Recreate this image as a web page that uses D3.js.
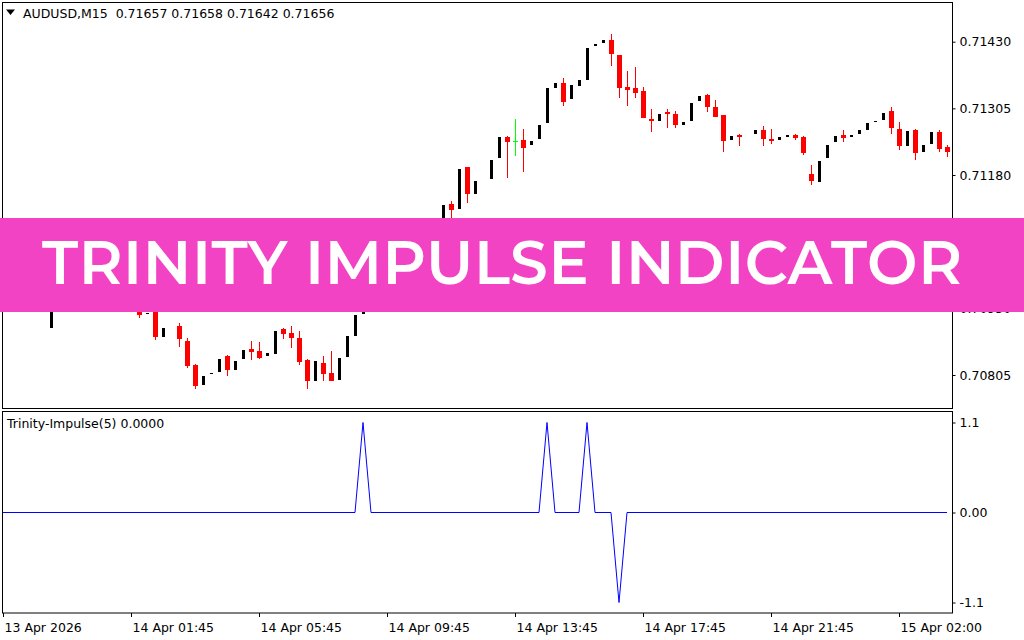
<!DOCTYPE html>
<html><head><meta charset="utf-8">
<script src="https://cdn.jsdelivr.net/npm/d3@7"></script>
<style>
body{margin:0;background:#fff;}
svg{display:block;}
</style>
</head><body>
<svg id="chart" width="1024" height="640"></svg>
<script>
// ---------- DATA ----------
const symbolLabel = "AUDUSD,M15  0.71657 0.71658 0.71642 0.71656";
const indicatorLabel = "Trinity-Impulse(5) 0.0000";
const bannerTitle = "TRINITY IMPULSE INDICATOR";

const openP = [0.71039,0.71024,0.71051,0.71009,0.70976,0.70949,0.70894,0.70974,0.71006,0.70991,
0.71028,0.71051,0.71024,0.71002,0.71032,0.70987,0.70957,0.70968,0.70919,0.70934,
0.70877,null,0.70897,0.70868,0.70824,0.70787,0.70808,0.70811,0.70841,0.70815,
0.70835,0.70854,0.70850,0.70841,0.70845,0.70891,0.70884,0.70874,0.70833,0.70794,
0.70828,0.70809,0.70796,0.70838,0.70879,0.70920,0.70953,0.70976,0.70964,0.71002,
0.71024,0.71013,0.71043,0.71062,0.71051,0.71084,0.71126,0.71117,0.71195,0.71145,
null,0.71173,0.71211,0.71251,0.71243,0.71246,0.71237,0.71248,0.71278,0.71344,
0.71353,0.71323,0.71347,0.71358,0.71421,0.71428,0.71433,0.71405,0.71345,0.71343,
0.71338,0.71285,0.71282,0.71298,0.71294,0.71273,0.71282,0.71319,0.71330,0.71308,
0.71293,0.71246,0.71255,null,0.71256,0.71264,0.71248,0.71246,0.71252,0.71255,
0.71251,0.71182,0.71166,0.71211,0.71241,0.71255,0.71252,0.71256,0.71265,0.71280,
0.71284,0.71300,0.71266,0.71235,0.71264,0.71224,0.71239,0.71261,0.71233];

const highP = [0.71049,0.71058,0.71062,0.71017,0.70983,0.70961,0.70979,0.71017,0.71024,0.71039,
0.71062,0.71066,0.71036,0.71039,0.71043,0.70998,0.70983,0.70976,0.70921,0.70942,
0.70893,null,0.70903,0.70874,0.70826,0.70803,0.70809,0.70835,0.70843,0.70831,
0.70852,0.70869,0.70867,0.70846,0.70888,0.70893,0.70897,0.70888,0.70835,0.70831,
0.70841,0.70850,0.70837,0.70878,0.70918,0.70957,0.70979,0.70983,0.71006,0.71030,
0.71032,0.71047,0.71068,0.71073,0.71088,0.71124,0.71131,0.71191,0.71195,0.71169,
null,0.71208,0.71251,0.71254,0.71285,0.71266,0.71244,0.71274,0.71343,0.71353,
0.71362,0.71349,0.71358,0.71418,0.71426,0.71433,0.71444,0.71405,0.71375,0.71383,
0.71345,0.71304,0.71294,0.71304,0.71300,0.71279,0.71315,0.71328,0.71332,0.71321,
0.71293,0.71253,0.71257,null,0.71264,0.71272,0.71266,0.71251,0.71255,0.71257,
0.71253,0.71198,0.71206,0.71236,0.71253,0.71264,0.71255,0.71264,0.71278,0.71282,
0.71296,0.71308,0.71279,0.71263,0.71266,0.71236,0.71261,0.71264,0.71237];

const lowP = [0.71017,0.71017,0.71002,0.70964,0.70936,0.70923,0.70893,0.70964,0.70979,0.70983,
0.71017,0.71017,0.70993,0.70991,0.70979,0.70946,0.70938,0.70912,0.70919,0.70871,
0.70877,null,0.70858,0.70819,0.70779,0.70787,0.70808,0.70811,0.70804,0.70815,
0.70835,0.70833,0.70835,0.70841,0.70845,0.70873,0.70856,0.70824,0.70779,0.70794,
0.70794,0.70793,0.70796,0.70838,0.70879,0.70920,0.70949,0.70957,0.70961,0.70998,
0.71006,0.71009,0.71039,0.71043,0.71047,0.71081,0.71092,0.71117,0.71128,0.71145,
null,0.71173,0.71211,0.71175,0.71216,0.71186,0.71237,0.71248,0.71278,0.71344,
0.71310,0.71323,0.71347,0.71358,0.71421,0.71428,0.71385,0.71325,0.71310,0.71325,
0.71286,0.71261,0.71282,0.71269,0.71269,0.71273,0.71282,0.71319,0.71299,0.71288,
0.71224,0.71246,0.71235,null,0.71256,0.71235,0.71239,0.71246,0.71252,0.71246,
0.71218,0.71162,0.71166,0.71211,0.71241,0.71241,0.71252,0.71256,0.71265,0.71280,
0.71284,0.71256,0.71226,0.71235,0.71209,0.71224,0.71239,0.71224,0.71214];

const closeP = [0.71024,0.71051,0.71009,0.70976,0.70949,0.70934,0.70974,0.71006,0.70991,0.71028,
0.71051,0.71024,0.71002,0.71032,0.70987,0.70957,0.70972,0.70918,0.70921,0.70877,
0.70893,null,0.70873,0.70821,0.70785,0.70803,0.70809,0.70835,0.70815,0.70831,
0.70852,0.70849,0.70837,0.70846,0.70888,0.70881,0.70875,0.70830,0.70793,0.70831,
0.70806,0.70794,0.70837,0.70878,0.70918,0.70953,0.70976,0.70964,0.71002,0.71024,
0.71013,0.71043,0.71062,0.71051,0.71084,0.71124,0.71115,0.71191,0.71145,0.71169,
null,0.71208,0.71251,0.71241,0.71243,0.71231,0.71244,0.71274,0.71343,0.71353,
0.71316,0.71349,0.71358,0.71418,0.71426,0.71433,0.71407,0.71344,0.71340,0.71334,
0.71286,0.71282,0.71294,0.71295,0.71273,0.71279,0.71315,0.71328,0.71308,0.71289,
0.71244,0.71253,0.71252,null,0.71264,0.71248,0.71243,0.71251,0.71255,0.71250,
0.71222,0.71168,0.71206,0.71236,0.71253,0.71250,0.71255,0.71264,0.71278,0.71282,
0.71296,0.71269,0.71235,0.71263,0.71222,0.71236,0.71261,0.71229,0.71224];

const impulse = [
0,0,0,0,0,0,0,0,0,0, 0,0,0,0,0,0,0,0,0,0, 0,0,0,0,0,0,0,0,0,0, 0,0,0,0,0,0,0,0,0,0,
0,0,0,0,0,1.1,0,0,0,0, 0,0,0,0,0,0,0,0,0,0, 0,0,0,0,0,0,0,0,1.1,0,
0,0,0,1.1,0,0,0,-1.1,0,0, 0,0,0,0,0,0,0,0,0,0, 0,0,0,0,0,0,0,0,0,0,
0,0,0,0,0,0,0,0,0,0, 0,0,0,0,0,0,0,0,0];

const priceTicks = [0.71430,0.71305,0.71180,0.71055,0.70930,0.70805];
const impulseTicks = [1.1,0,-1.1];
const impulseTickLabels = ["1.1","0.00","-1.1"];
const timeTickIndex = [0,16,32,48,64,80,96,112];
const timeTickLabels = ["13 Apr 2026","14 Apr 01:45","14 Apr 05:45","14 Apr 09:45","14 Apr 13:45","14 Apr 17:45","14 Apr 21:45","15 Apr 02:00"];

// ---------- DRAW ----------
const FONT = "'DejaVu Sans', Verdana, sans-serif";
const FS = 12.5;
const svg = d3.select("#chart");
const n = openP.length;
const bars = d3.range(n).map(i => ({i, o:openP[i], h:highP[i], l:lowP[i], c:closeP[i]})).filter(d => d.o !== null);

const x = d3.scaleLinear().domain([0, n-1]).range([3, 947]);
const yP = d3.scaleLinear().domain([0.70805, 0.71430]).range([375, 41.7]);
const yI = d3.scaleLinear().domain([-1.1, 1.1]).range([602.5, 422.5]);

svg.append("rect").attr("width",1024).attr("height",640).attr("fill","#fff");

svg.append("defs").append("clipPath").attr("id","mainClip")
  .append("rect").attr("x",3).attr("y",3).attr("width",949).attr("height",405);

// panel frames
svg.append("rect").attr("x",2.5).attr("y",2.5).attr("width",950).attr("height",406)
  .attr("fill","none").attr("stroke","#000");
svg.append("rect").attr("x",2.5).attr("y",411.5).attr("width",950).attr("height",201.5)
  .attr("fill","none").attr("stroke","#000");

// candles
const cg = svg.append("g").attr("clip-path","url(#mainClip)").attr("shape-rendering","crispEdges");
const col = d => d.c > d.o ? "#000" : (d.c < d.o ? "#ff0000" : "#00ff00");
cg.selectAll(".wick").data(bars).join("rect")
  .attr("x", d => Math.round(x(d.i)))
  .attr("width", 1)
  .attr("y", d => Math.round(yP(d.h)))
  .attr("height", d => Math.max(1, Math.round(yP(d.l)) - Math.round(yP(d.h))))
  .attr("fill", col);
cg.selectAll(".body").data(bars).join("rect")
  .attr("x", d => Math.round(x(d.i)) - (d.c > d.o ? 1 : 2))
  .attr("width", d => d.c > d.o ? 3 : 5)
  .attr("y", d => Math.round(yP(Math.max(d.o,d.c))))
  .attr("height", d => Math.max(1, Math.round(yP(Math.min(d.o,d.c))) - Math.round(yP(Math.max(d.o,d.c)))))
  .attr("fill", col);

// price axis
const pa = svg.append("g").attr("transform","translate(952.5,0)")
  .call(d3.axisRight(yP).tickValues(priceTicks).tickFormat(d3.format(".5f")).tickSize(3).tickPadding(4));
pa.select(".domain").remove();
pa.selectAll("text").attr("font-family",FONT).attr("font-size",FS).attr("fill","#000");

// impulse axis
const ia = svg.append("g").attr("transform","translate(952.5,0)")
  .call(d3.axisRight(yI).tickValues(impulseTicks).tickFormat((d,k) => impulseTickLabels[k]).tickSize(3).tickPadding(4));
ia.select(".domain").remove();
ia.selectAll("text").attr("font-family",FONT).attr("font-size",FS).attr("fill","#000");

// time axis
const ta = svg.append("g").attr("transform","translate(0,613)")
  .call(d3.axisBottom(x).tickValues(timeTickIndex).tickFormat((d,k) => timeTickLabels[k]).tickSize(4).tickPadding(6));
ta.select(".domain").remove();
ta.selectAll("text").attr("font-family",FONT).attr("font-size",FS).attr("fill","#000")
  .attr("text-anchor","start").attr("dx", 1);

// impulse line
svg.append("path").datum(impulse)
  .attr("d", d3.line().x((d,i) => x(i)).y(d => yI(d)))
  .attr("fill","none").attr("stroke","#0000ff").attr("stroke-width",1);

// labels
svg.append("path").attr("d","M6,9.5 L15,9.5 L10.5,15 Z").attr("fill","#000");
svg.append("text").attr("x",23).attr("y",18).attr("font-family",FONT).attr("font-size",FS)
  .attr("fill","#000").attr("xml:space","preserve").style("white-space","pre").text(symbolLabel);
svg.append("text").attr("x",7).attr("y",428).attr("font-family",FONT).attr("font-size",FS)
  .attr("fill","#000").text(indicatorLabel);

// banner
svg.append("rect").attr("x",0).attr("y",218).attr("width",1024).attr("height",94).attr("fill","#f243c4");
svg.append("text").attr("x",42).attr("y",284)
  .attr("font-family","Montserrat, 'Open Sans', sans-serif").attr("font-weight",600)
  .attr("font-size",60).attr("fill","#fff")
  .attr("textLength",920).attr("lengthAdjust","spacing")
  .text(bannerTitle);
</script>
</body></html>
